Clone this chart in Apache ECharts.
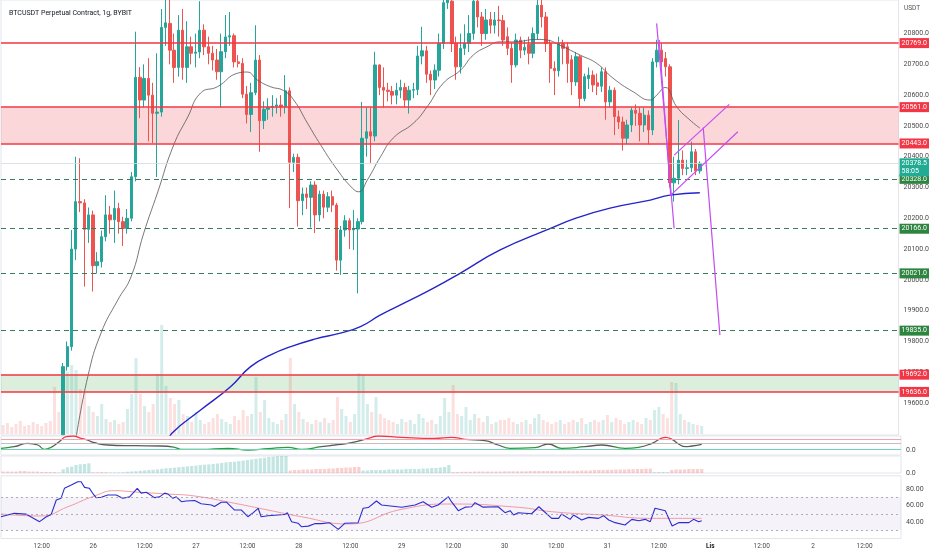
<!DOCTYPE html>
<html>
<head>
<meta charset="utf-8">
<script src="https://cdn.jsdelivr.net/npm/echarts@6.0.0/dist/echarts.min.js"></script>
<style>
html, body { margin: 0; padding: 0; background: #fff; }
#chart { width: 932px; height: 550px; }
</style>
</head>
<body>
<div id="chart"></div>
<script>
// BTCUSDT 1h chart, hour index 0 = 25 Oct 03:00
var TITLE = 'BTCUSDT Perpetual Contract, 1g, BYBIT';
var N = 210;
var FIRST = 14; // first candle inside the price window

// [open, close, low, high]
var candles = [
  [19497,19718,19497,19730],[19718,19783,19705,19800],[19783,20100,19770,20162],[20100,20254,20064,20400],
  [20254,20250,20220,20395],[20250,20164,19978,20262],[20164,20211,20120,20235],[20211,20046,19962,20225],
  [20046,20059,20020,20090],[20059,20140,20040,20160],[20140,20211,20125,20275],[20211,20195,20150,20240],
  [20195,20232,20120,20290],[20232,20189,20150,20250],[20189,20167,20110,20205],[20167,20200,20150,20230],
  [20200,20335,20190,20350],[20335,20658,20320,20806],[20658,20584,20525,20691],[20584,20654,20560,20700],
  [20654,20600,20450,20720],[20600,20541,20444,20640],[20541,20545,20334,20736],[20545,20820,20530,20880],
  [20820,20835,20760,20930],[20833,20746,20700,20930],[20746,20690,20640,20800],[20690,20811,20660,20860],
  [20811,20690,20650,20880],[20690,20757,20640,20840],[20757,20736,20700,20790],[20736,20740,20690,20800],
  [20740,20811,20720,20905],[20811,20757,20730,20830],[20757,20736,20700,20790],[20736,20714,20680,20760],
  [20714,20676,20650,20750],[20676,20741,20560,20800],[20741,20789,20720,20860],[20789,20793,20760,20870],
  [20793,20708,20690,20800],[20708,20703,20690,20730],[20703,20603,20590,20720],[20603,20537,20508,20630],
  [20537,20608,20480,20640],[20608,20714,20600,20827],[20714,20517,20416,20730],[20517,20554,20490,20580],
  [20554,20560,20520,20590],[20560,20564,20530,20600],[20564,20568,20540,20590],[20568,20562,20530,20600],
  [20562,20614,20540,20665],[20614,20382,20233,20625],[20382,20398,20350,20410],[20398,20257,20173,20410],
  [20257,20279,20210,20300],[20279,20268,20230,20300],[20268,20308,20170,20320],[20308,20211,20152,20320],
  [20211,20278,20190,20290],[20278,20236,20200,20290],[20236,20270,20220,20285],[20270,20243,20220,20290],
  [20243,20064,20030,20250],[20064,20162,20016,20175],[20162,20192,20140,20210],[20192,20162,20100,20200],
  [20162,20165,20097,20227],[20165,20189,19956,20200],[20189,20460,20180,20578],[20460,20481,20400,20560],
  [20481,20467,20380,20560],[20467,20698,20450,20741],[20698,20625,20600,20700],[20625,20616,20560,20690],
  [20616,20612,20580,20640],[20612,20600,20570,20630],[20600,20616,20570,20640],[20616,20625,20590,20650],
  [20625,20584,20560,20640],[20584,20616,20540,20630],[20616,20618,20590,20640],[20618,20727,20600,20760],
  [20727,20744,20700,20822],[20744,20668,20640,20760],[20668,20649,20600,20680],[20649,20681,20620,20700],
  [20681,20768,20660,20800],[20768,20900,20750,20960],[20900,20912,20880,20960],[20905,20768,20740,20930],
  [20768,20692,20650,20790],[20692,20752,20670,20800],[20752,20768,20730,20830],[20768,20800,20740,20860],
  [20800,20905,20780,20950],[20905,20854,20820,20940],[20854,20800,20760,20870],[20800,20844,20780,20880],
  [20846,20827,20800,20870],[20827,20844,20800,20870],[20844,20842,20790,20890],[20842,20779,20760,20860],
  [20790,20752,20730,20820],[20752,20698,20640,20770],[20698,20779,20690,20800],[20779,20746,20720,20790],
  [20746,20755,20730,20780],[20765,20736,20700,20790],[20736,20800,20720,20820],[20800,20892,20780,20920],
  [20892,20854,20820,20910],[20854,20768,20740,20870],[20768,20687,20640,20780],[20687,20679,20600,20710],
  [20679,20768,20660,20790],[20768,20752,20700,20780],[20757,20703,20640,20770],[20715,20643,20600,20730],
  [20643,20725,20630,20740],[20725,20589,20560,20730],[20589,20660,20580,20670],[20654,20665,20620,20690],
  [20665,20633,20610,20680],[20640,20629,20600,20670],[20629,20676,20610,20690],[20676,20578,20520,20690],
  [20578,20616,20560,20630],[20616,20530,20470,20625],[20530,20513,20490,20550],[20513,20460,20420,20530],
  [20460,20503,20440,20520],[20503,20551,20480,20560],[20551,20541,20500,20570],[20541,20503,20450,20560],
  [20503,20535,20480,20560],[20535,20487,20440,20550],[20487,20708,20470,20720],[20708,20746,20690,20780],
  [20746,20708,20690,20770],[20719,20692,20660,20740],[20692,20315,20300,20700],[20315,20330,20254,20400],
  [20330,20389,20310,20519],[20389,20362,20340,20420],[20362,20364,20340,20390],[20364,20416,20350,20449],
  [20416,20354,20340,20425],[20354,20378.5,20345,20385]
];

var volumes = [
  9,11,7,10,13,8,9,12,10,8,11,13,47,22,
  35,62,69,64,45,41,28,22,18,30,15,
  12,14,10,12,25,40,76,40,28,22,30,60,109,
  48,36,30,34,20,18,12,22,14,10,12,16,20,15,12,10,18,14,
  24,18,20,57,22,34,16,12,10,14,20,76,30,22,15,
  12,10,14,12,16,11,14,37,25,18,12,20,61,59,30,22,37,20,16,14,
  12,10,15,12,14,10,20,16,12,14,10,18,36,22,49,20,18,27,14,20,
  16,12,18,10,12,14,14,16,12,10,12,14,10,16,20,14,12,10,12,14,
  10,12,14,12,16,10,12,14,12,14,19,12,16,14,10,12,14,12,10,16,
  14,24,27,20,16,52,51,20,14,12,10,9,8
];

var priceTicks = [19600,19700,19800,19900,20000,20100,20200,20300,20400,20500,20600,20700,20800];
var resistances = [20769, 20561, 20443, 19692, 19636];
var supports = [20328, 20166, 20021, 19835];
var redZone = [20443, 20561];
var greenZone = [19636, 19692];
var lastPrice = 20378.5;
var countdown = '58:05';

// [hour index, price]
var maGray = [
  [17,19480],[19.8,19685],[22.9,19827],[26.8,19934],[29.9,20009],[32.9,20152],[36.1,20282],[39.9,20438],
  [43.2,20529],[46.2,20607],[50.1,20627],[54.8,20671],[57.1,20675],[59.5,20649],[62.6,20627],[65.6,20615],
  [68,20584],[71.2,20509],[74.3,20438],[78.2,20357],[81.7,20298],[83.2,20286],[85.2,20324],[88.3,20400],
  [91.3,20461],[96,20509],[99.2,20562],[103,20639],[107,20681],[110,20730],[113.2,20757],[116.3,20773],
  [119.4,20773],[124.9,20781],[127.2,20779],[130.3,20762],[135,20730],[138.9,20703],[142.7,20655],
  [147.4,20611],[151.4,20584],[152.9,20600],[154.9,20625],[157.6,20562],[160.7,20519],[163,20493]
];
var maBlue = [
  [38.5,19470],[39.6,19503],[46.2,19577],[53.2,19653],[57.9,19718],[62.6,19756],[67.3,19783],[73.1,19808],
  [78.9,19827],[83.6,19848],[88.3,19886],[94.5,19929],[100.7,19973],[107,20022],[116.3,20097],
  [127.2,20162],[134.2,20201],[142,20233],[151.4,20259],[156,20275],[163,20283]
];
var drawings = [
  [[152.9,20833],[157,20167]],
  [[153.5,20779],[156.2,20275]],
  [[157,20405],[169.9,20570]],
  [[156.2,20275],[171.9,20481]],
  [[163.8,20495],[167.7,19821]]
];

// oscillator pane [hour index, value]
var oscPts = [
  [-0.5,1.7],[2.6,3.3],[5.7,6.7],[8.1,5],[9.6,0.7],[11.2,2.7],[13.1,8.3],[14.7,13.3],[16.3,14],[18.2,11.7],
  [19.6,10],[21.3,7.3],[24.4,5],[30.7,4.3],[36.9,4],[40,2.7],[41.6,0.7],[46.2,0.7],[52.5,1.7],[57.1,0],
  [61.8,1.3],[66.5,2.7],[69.6,0.7],[74.3,3.3],[77.4,5],[81.3,7.3],[85.2,11.7],[87.5,14],[93,12.7],
  [100.7,11.7],[104.6,12.7],[107.8,10.7],[112.4,9.3],[115.5,5],[118.3,1.7],[124.1,2.3],[127.2,6],
  [130.3,1.7],[135.8,3.3],[139.7,5],[145.1,1.7],[148.3,2.7],[151.4,6.7],[154.5,12.7],[156.1,10.7],
  [157.6,6],[159.2,3.3],[160.7,4],[163,5.7]
];
var oscLevels = [11, 6.7, 1];

// histogram pane, + green / - red
var histVals = [
  -1.5,-1.5,-1.5,-1.5,-2,-2,-1.5,-1.5,-1.5,-1,-1,-1,-1,-0.5,
  3.7,5.7,6.3,8,8.7,9,9.7,
  -0.8,-0.8,-1,-0.8,0.5,0.5,0.6,0.8,
  1.3,1.5,1.8,2.2,2.6,3,3.2,3.6,4.2,4.7,5,5.3,5.8,6.2,6.6,7,7.4,8,8.2,8.6,9,9.5,10,10.6,11,11.3,11.9,12.4,13,13.6,14.2,14.8,15.3,16,16.3,16.8,17.4,18,
  -2.5,-3,-3,-3.5,-3.5,-3.5,-4,-4,-4,-4.5,-4.5,-5,-5,-5.5,-5.5,-6,-6,
  2.5,2.5,3,3,3,3,3.5,3.5,3.5,3.5,4,4,4,4,4.5,4.5,5,5,5.5,6,
  8,
  -1,-1,-1.2,-1.2,-1.2,-1.5,-1.5,-1.5,-1.5,-1.5,-1.5,-1.5,-1.7,-1.7,-1.7,-1.7,-1.7,-1.7,-2,-2,-2,-2,-2,-2,-2,-2,-2.2,-2.2,-2.2,-2.2,-2.5,-2.5,-2.5,
  -3,-3,-3,-3.2,-3.2,-3.5,-3.5,-3.5,-3.8,-3.8,-4,-4,-4.3,-4.3,
  0.8,1,1,0.8,
  -3,-3.5,-3.5,-3.5,-4,-4,-4,-4
];

// RSI pane [hour index, value]
var rsiPts = [
  [-0.5,46.4],[2.6,50.5],[5.3,49.6],[8.5,40.4],[10,46],[11.2,49],[12.4,66.7],[13.5,68.7],[14.3,80.8],
  [15.9,84.8],[17.4,88.8],[18.2,88.8],[19,82],[20.1,81],[20.9,74.8],[21.7,69.5],[22.9,70],[24.4,72.7],
  [26.4,72.7],[27.9,68.7],[29.5,70.5],[31.3,80.8],[32.2,75],[33.4,76],[35.3,69.5],[36.5,70.5],[37.7,75],
  [38.4,74],[39.6,68.7],[40.4,70.5],[41.6,64.6],[42.7,65.5],[44.7,66],[46.2,62.2],[48.6,60.6],[49.3,58.8],
  [50.9,64],[52.1,64],[54,54.5],[55.6,54.5],[57.1,46.4],[58.3,51],[59.5,56.6],[60.2,46.4],[61.8,47.5],
  [65.7,49],[66.3,51.3],[67.3,40.4],[68.8,38.5],[69.6,34.3],[71.2,35],[72.7,38],[74.3,38],[76.2,39],
  [78.2,31.1],[79.7,38.4],[82.8,39],[84,56.6],[85.2,57.5],[87.1,65.5],[88.3,60.6],[93,57.8],[96.1,60.6],
  [98,64.6],[100,57.8],[101.5,60.6],[103.9,70.7],[104.6,64.6],[106.2,53.7],[107.8,58],[109.3,58.5],
  [110.1,63.4],[112,58],[115.5,58.5],[117.1,51.3],[118.3,53.7],[119.1,48.5],[120.2,51.3],[123.3,50],
  [125,58.5],[128,44.4],[129.6,44.4],[130.3,49.7],[132.3,43.2],[133.1,48.5],[135,42.4],[136.6,45.6],
  [138.9,44.4],[140.1,47.7],[141.3,42.4],[142.8,39.2],[145.1,36.4],[146.7,43.2],[148.3,41.6],[149.8,43.2],
  [151,40.4],[152.1,56.6],[154.5,53.7],[156.1,35.2],[157.6,39.2],[160,39.2],[161.1,43.2],[162.3,40.4],[163,41.6]
];
var rsiMaPts = [
  [-0.5,49.7],[8.8,47.3],[15.1,58.5],[21.3,71.5],[26,78],[30.7,76.4],[38.4,73.9],[44.7,71.5],[54,62.7],
  [61.8,54.5],[69.6,46.4],[80.5,37.6],[93,55.4],[104.6,61.8],[120.2,57.8],[128,52.5],[139.7,48.5],
  [151.4,44.4],[163,44.4]
];
var rsiLevels = [70, 50, 30];
var rsiTicks = [40, 60, 80];

var timeTickIdx = [9,21,33,45,57,69,81,93,105,117,129,141,153,165,177,189,201];
var timeTickLabels = ['12:00','26','12:00','27','12:00','28','12:00','29','12:00','30','12:00','31','12:00','Lis','12:00','2','12:00'];

var UP = '#26a69a', DOWN = '#ef5350';
var FONT = 'Roboto';

function boxLabel(text, bg) {
  return {
    show: true, position: 'end', distance: 1, formatter: text,
    color: '#fff', backgroundColor: bg, fontSize: 7, fontFamily: FONT,
    padding: [1, 2], lineHeight: 8
  };
}

var cats = [];
for (var i = 0; i < N; i++) cats.push(i);

var candleData = [];
var volData = [];
var histData = [];
for (var i = 0; i < N; i++) {
  var c = (i >= FIRST && i - FIRST < candles.length) ? candles[i - FIRST] : null;
  candleData.push(c ? c : '-');
  if (i < volumes.length) {
    var up = c ? c[1] >= c[0] : false;
    volData.push({ value: volumes[i], itemStyle: { color: up ? 'rgba(38,166,154,0.2)' : 'rgba(239,83,80,0.18)' } });
  }
  if (i < histVals.length) {
    var h = histVals[i];
    histData.push({ value: Math.abs(h), itemStyle: { color: h >= 0 ? 'rgba(38,166,154,0.28)' : 'rgba(239,83,80,0.28)' } });
  }
}

var chart = echarts.init(document.getElementById('chart'));

var series = [];
series.push({
  type: 'candlestick', xAxisIndex: 0, yAxisIndex: 0, data: candleData, barWidth: '68%', clip: true,
  itemStyle: { color: UP, color0: DOWN, borderColor: UP, borderColor0: DOWN, borderWidth: 1 },
  markArea: {
    silent: true,
    data: [
      [{ yAxis: redZone[0], itemStyle: { color: 'rgba(242,54,69,0.2)' } }, { yAxis: redZone[1] }],
      [{ yAxis: greenZone[0], itemStyle: { color: 'rgba(76,175,80,0.2)' } }, { yAxis: greenZone[1] }]
    ]
  },
  markLine: {
    silent: true, symbol: ['none', 'none'], animation: false,
    data: resistances.map(function (v) {
      return { yAxis: v, lineStyle: { color: '#f23645', width: 1.5, type: 'solid', opacity: 1 }, label: boxLabel(v.toFixed(1), '#f23645') };
    }).concat(supports.map(function (v) {
      return { yAxis: v, lineStyle: { color: '#3b7a5a', width: 1, type: [5, 4], opacity: 1 }, label: boxLabel(v.toFixed(1), '#2e8540') };
    })).concat([
      { yAxis: lastPrice, lineStyle: { color: '#d3dae2', width: 0.8, type: 'solid', opacity: 1 }, label: { show: false } },
      { yAxis: lastPrice - 13, lineStyle: { color: 'rgba(0,0,0,0)', width: 0 }, label: boxLabel(lastPrice.toFixed(1) + '\n' + countdown, '#22ab94') }
    ])
  },
  z: 3
});
series.push({
  type: 'line', xAxisIndex: 1, yAxisIndex: 0, data: maGray, smooth: true, showSymbol: false,
  lineStyle: { color: '#555', width: 0.8 }, z: 4
});
series.push({
  type: 'line', xAxisIndex: 1, yAxisIndex: 0, data: maBlue, smooth: true, showSymbol: false,
  lineStyle: { color: '#2424c8', width: 1.4 }, z: 4
});
drawings.forEach(function (seg) {
  series.push({
    type: 'line', xAxisIndex: 1, yAxisIndex: 0, data: seg, showSymbol: false,
    lineStyle: { color: '#c64cf0', width: 1.2 }, z: 5
  });
});
series.push({
  type: 'bar', xAxisIndex: 2, yAxisIndex: 1, data: volData, barWidth: '70%', z: 1
});
var oscIndex = series.length;
series.push({
  type: 'line', xAxisIndex: 3, yAxisIndex: 2, data: oscPts, smooth: true, showSymbol: false,
  lineStyle: { width: 1.3 },
  markLine: {
    silent: true, symbol: ['none', 'none'], label: { show: false },
    data: [
      { yAxis: oscLevels[0], lineStyle: { color: '#f5a3aa', width: 1, type: 'solid' } },
      { yAxis: oscLevels[1], lineStyle: { color: '#b0b0b0', width: 0.8, type: 'solid' } },
      { yAxis: oscLevels[2], lineStyle: { color: '#6fd3b8', width: 1, type: 'solid' } }
    ]
  }
});
series.push({
  type: 'bar', xAxisIndex: 4, yAxisIndex: 3, data: histData, barWidth: '75%'
});
series.push({
  type: 'line', xAxisIndex: 5, yAxisIndex: 4, data: rsiPts, showSymbol: false,
  lineStyle: { color: '#2b2bd0', width: 1.1 }, z: 4,
  markArea: {
    silent: true,
    data: [[{ yAxis: rsiLevels[2], itemStyle: { color: 'rgba(126,87,194,0.08)' } }, { yAxis: rsiLevels[0] }]]
  },
  markLine: {
    silent: true, symbol: ['none', 'none'], label: { show: false },
    data: rsiLevels.map(function (v) {
      return { yAxis: v, lineStyle: { color: '#9a9aa6', width: 0.8, type: [2, 3] } };
    })
  }
});
series.push({
  type: 'line', xAxisIndex: 5, yAxisIndex: 4, data: rsiMaPts, smooth: true, showSymbol: false,
  lineStyle: { color: '#f19aa3', width: 1 }, z: 3
});

var gridBorder = { show: true, borderColor: '#e3e5ec', borderWidth: 1, backgroundColor: 'transparent' };
var axisText = { fontSize: 7, color: '#4a4a4a', fontFamily: FONT };

chart.setOption({
  animation: false,
  backgroundColor: '#ffffff',
  title: {
    text: TITLE, left: 4, top: 5,
    textStyle: { fontSize: 7, fontWeight: 'normal', color: '#131722', fontFamily: FONT }
  },
  graphic: [{ type: 'text', left: 904, top: 5, style: { text: 'USDT', fontSize: 6.5, fill: '#555', fontFamily: FONT } }],
  visualMap: {
    show: false, type: 'piecewise', seriesIndex: oscIndex, dimension: 1,
    pieces: [
      { lt: 3.5, color: '#2e9a3a' },
      { gte: 3.5, lte: 10, color: '#5a5a5a' },
      { gt: 10, color: '#f23645' }
    ]
  },
  grid: [
    Object.assign({ left: 1, right: 31, top: 0, height: 435 }, gridBorder),
    { left: 1, right: 31, top: 300, height: 134, show: false },
    Object.assign({ left: 1, right: 31, top: 436, height: 19 }, gridBorder),
    Object.assign({ left: 1, right: 31, top: 456, height: 17 }, gridBorder),
    Object.assign({ left: 1, right: 31, top: 475.8, height: 62.7 }, gridBorder)
  ],
  xAxis: [
    { type: 'category', gridIndex: 0, data: cats, show: false },
    { type: 'value', gridIndex: 0, min: -0.5, max: N - 0.5, show: false },
    { type: 'category', gridIndex: 1, data: cats, show: false },
    { type: 'value', gridIndex: 2, min: -0.5, max: N - 0.5, show: false },
    { type: 'category', gridIndex: 3, data: cats, show: false },
    {
      type: 'value', gridIndex: 4, min: -0.5, max: N - 0.5, position: 'bottom',
      axisLine: { show: false }, axisTick: { show: false }, splitLine: { show: false },
      axisLabel: Object.assign({
        customValues: timeTickIdx, margin: 4, fontSize: 6.5,
        formatter: function (v) {
          var k = timeTickIdx.indexOf(Math.round(v));
          var t = k >= 0 ? timeTickLabels[k] : '';
          return t === 'Lis' ? '{b|Lis}' : t;
        },
        rich: { b: { fontWeight: 'bold', fontSize: 6.5, color: '#222', fontFamily: FONT } }
      }, { color: '#4a4a4a', fontFamily: FONT })
    }
  ],
  yAxis: [
    {
      type: 'value', gridIndex: 0, position: 'right', min: 19496, max: 20909, scale: true,
      axisLine: { show: false }, axisTick: { show: false }, splitLine: { show: false },
      axisLabel: Object.assign({ customValues: priceTicks, margin: 5, formatter: function (v) { return v.toFixed(1); } }, axisText)
    },
    { type: 'value', gridIndex: 1, min: 0, max: 134, show: false },
    {
      type: 'value', gridIndex: 2, position: 'right', min: -5, max: 14,
      axisLine: { show: false }, axisTick: { show: false }, splitLine: { show: false },
      axisLabel: Object.assign({ customValues: [0], margin: 5, formatter: function (v) { return v.toFixed(1); } }, axisText)
    },
    {
      type: 'value', gridIndex: 3, position: 'right', min: 0, max: 17,
      axisLine: { show: false }, axisTick: { show: false }, splitLine: { show: false },
      axisLabel: Object.assign({ customValues: [0], margin: 5, formatter: function (v) { return v.toFixed(1); } }, axisText)
    },
    {
      type: 'value', gridIndex: 4, position: 'right', min: 20, max: 96,
      axisLine: { show: false }, axisTick: { show: false }, splitLine: { show: false },
      axisLabel: Object.assign({ customValues: rsiTicks, margin: 5, formatter: function (v) { return v.toFixed(2); } }, axisText)
    }
  ],
  series: series
});
</script>
</body>
</html>
